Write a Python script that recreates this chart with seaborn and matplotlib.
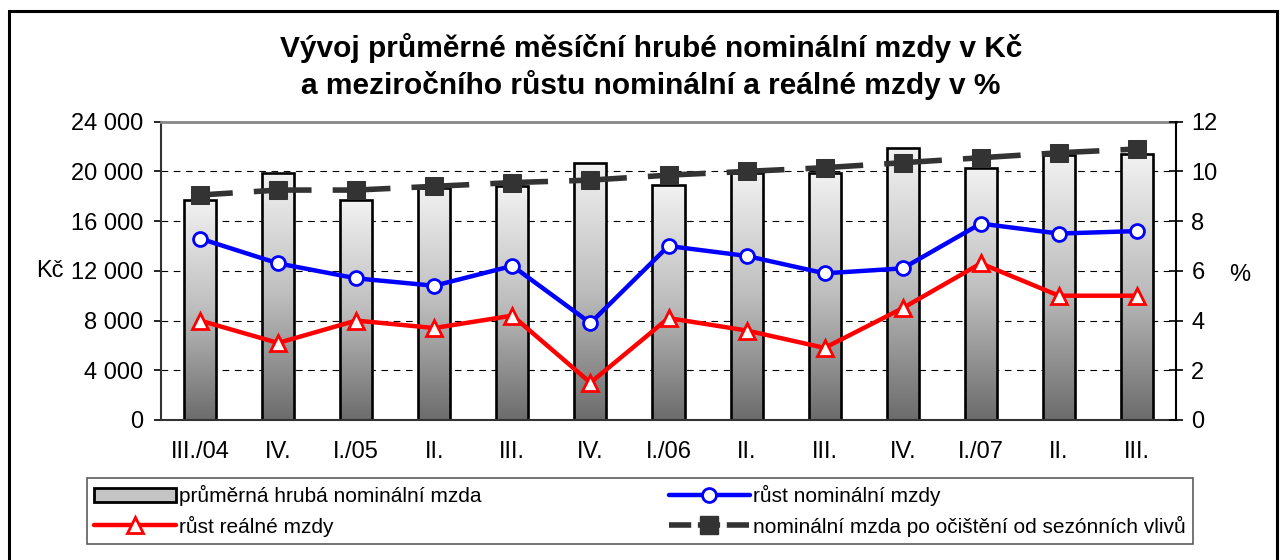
import numpy as np
import pandas as pd
import matplotlib
matplotlib.use("Agg")
import matplotlib.pyplot as plt
import seaborn as sns
from matplotlib.patches import Patch, Rectangle
from matplotlib.lines import Line2D
from matplotlib.colors import LinearSegmentedColormap
from matplotlib.ticker import FuncFormatter, FixedLocator

# data
periods = ["2004Q3", "2004Q4", "2005Q1", "2005Q2", "2005Q3", "2005Q4", "2006Q1",
           "2006Q2", "2006Q3", "2006Q4", "2007Q1", "2007Q2", "2007Q3"]
tick_labels = ["III./04", "IV.", "I./05", "II.", "III.", "IV.", "I./06",
               "II.", "III.", "IV.", "I./07", "II.", "III."]
avg_wage = [17700, 19900, 17700, 18700, 18800, 20700, 18900,
            19900, 19900, 21900, 20300, 21300, 21400]
wage_sa = [18100, 18500, 18500, 18800, 19100, 19300, 19700,
           20000, 20300, 20700, 21100, 21500, 21800]
nominal_growth = [7.3, 6.3, 5.7, 5.4, 6.2, 3.9, 7.0, 6.6, 5.9, 6.1, 7.9, 7.5, 7.6]
real_growth = [4.0, 3.1, 4.0, 3.7, 4.2, 1.5, 4.1, 3.6, 2.9, 4.5, 6.3, 5.0, 5.0]

lbl_bar = "průměrná hrubá nominální mzda"
lbl_nom = "růst nominální mzdy"
lbl_real = "růst reálné mzdy"
lbl_sa = "nominální mzda po očištění od sezónních vlivů"

df = pd.DataFrame({"pos": range(len(periods)), "period": periods,
                   "wage": avg_wage, "wage_sa": wage_sa,
                   "nom": nominal_growth, "real": real_growth})

sns.set_style("white")
plt.rcParams["font.family"] = ["Liberation Sans", "DejaVu Sans"]
plt.rcParams["text.color"] = "black"
plt.rcParams["axes.labelcolor"] = "black"
plt.rcParams["xtick.color"] = "black"
plt.rcParams["ytick.color"] = "black"

W, H = 1283, 560
fig = plt.figure(figsize=(W / 100, H / 100), dpi=100)
ax = fig.add_axes([161 / W, 1 - 420 / H, 1015 / W, 298.3 / H])

# bars with vertical gradient
sns.barplot(data=df, x="pos", y="wage", ax=ax, width=0.41, color="#c0c0c0",
            edgecolor="black", linewidth=1.9, zorder=2)
cmap = LinearSegmentedColormap.from_list("g", ["#6c6c6c", "#bdbdbd", "#f2f2f2"])
grad = np.linspace(0, 1, 256).reshape(-1, 1)
for p in ax.patches:
    x0, y0 = p.get_x(), p.get_y()
    w, h = p.get_width(), p.get_height()
    im = ax.imshow(grad, extent=[x0, x0 + w, y0, y0 + h], origin="lower",
                   aspect="auto", cmap=cmap, zorder=1.9)
    im.set_clip_path(p)
    p.set_facecolor("none")

# seasonally adjusted wage (left axis), dashed with squares
sns.lineplot(data=df, x="pos", y="wage_sa", ax=ax, color="#333333", lw=4,
             marker="s", markersize=13, markeredgecolor="#333333",
             linestyle=(4.5, (10.4, 3.8)), zorder=3)

ax.set_xlim(-0.5, 12.5)
ax.set_ylim(0, 24000)
ax.set_yticks(range(0, 24001, 4000))
ax.yaxis.set_major_formatter(FuncFormatter(lambda v, _: f"{v:,.0f}".replace(",", " ")))
ax.grid(axis="y", color="black", linestyle=(0, (6, 5)), linewidth=0.8)
ax.set_axisbelow(True)
ax.xaxis.set_major_locator(FixedLocator(np.arange(-0.5, 13, 1)))
ax.xaxis.set_minor_locator(FixedLocator(np.arange(13)))
ax.set_xticklabels([], minor=False)
ax.set_xticklabels(tick_labels, minor=True)
ax.tick_params(axis="x", which="major", direction="out", length=5, width=1.2, color="#333333")
ax.tick_params(axis="x", which="minor", length=0, pad=15, labelsize=17)
ax.tick_params(axis="y", direction="out", length=5, width=1.2, pad=8, labelsize=17, left=True)
ax.set_xlabel("")
ax.set_ylabel("Kč", rotation=0, fontsize=17, va="center", ha="center")
ax.yaxis.set_label_coords(-0.109, 0.5)
for s in ["left", "bottom"]:
    ax.spines[s].set_color("#333333")
    ax.spines[s].set_linewidth(1.5)
ax.spines["top"].set_color("#888888")
ax.spines["top"].set_linewidth(2)
ax.spines["right"].set_visible(False)

# growth rates (right axis)
ax2 = ax.twinx()
sns.lineplot(data=df, x="pos", y="nom", ax=ax2, color="#0000ff", lw=3.2,
             marker="o", markersize=10, markerfacecolor="white",
             markeredgecolor="#0000ff", markeredgewidth=2, zorder=4)
sns.lineplot(data=df, x="pos", y="real", ax=ax2, color="#ff0000", lw=3.2,
             marker="^", markersize=11, markerfacecolor="white",
             markeredgecolor="#ff0000", markeredgewidth=2, zorder=4)
ax2.set_ylim(0, 12)
ax2.set_yticks(range(0, 13, 2))
ax2.tick_params(axis="y", direction="inout", length=10, width=1.2, pad=6,
                labelsize=17, right=True)
ax2.set_ylabel("%", rotation=0, fontsize=17, va="center", ha="center")
ax2.yaxis.set_label_coords(1.063, 0.486)
ax2.spines["right"].set_color("black")
ax2.spines["right"].set_linewidth(1.5)
for s in ["left", "top", "bottom"]:
    ax2.spines[s].set_visible(False)
ax2.set_xlim(-0.5, 12.5)

# title
fig.text(651 / W, 1 - 48 / H, "Vývoj průměrné měsíční hrubé nominální mzdy v Kč",
         ha="center", va="center", fontsize=21.5, fontweight="bold")
fig.text(651 / W, 1 - 85 / H, "a meziročního růstu nominální a reálné mzdy v %",
         ha="center", va="center", fontsize=21.5, fontweight="bold")

# legend
handles = [
    Patch(facecolor="#c4c4c4", edgecolor="black", linewidth=2, label=lbl_bar),
    Line2D([], [], color="#ff0000", lw=3.2, marker="^", markersize=11,
           markerfacecolor="white", markeredgecolor="#ff0000", markeredgewidth=2, label=lbl_real),
    Line2D([], [], color="#0000ff", lw=3.2, marker="o", markersize=10,
           markerfacecolor="white", markeredgecolor="#0000ff", markeredgewidth=2, label=lbl_nom),
    Line2D([], [], color="#333333", lw=4, marker="s", markersize=13,
           linestyle=(0, (4, 1.2)), label=lbl_sa),
]
leg = fig.legend(handles=handles, ncol=2, loc="lower left", mode="expand",
                 bbox_to_anchor=(87 / W, 1 - 544 / H, (1193 - 87) / W, 66 / H),
                 fontsize=15, handlelength=3.9, handletextpad=0.15,
                 labelspacing=0.45, borderpad=0.35, borderaxespad=0,
                 fancybox=False, frameon=True)
leg.get_frame().set_edgecolor("#333333")
leg.get_frame().set_linewidth(1.2)

# outer frame
fig.patches.append(Rectangle((9 / W, -0.02), (1277 - 9) / W, 1.02 - 11 / H,
                             transform=fig.transFigure, fill=False,
                             edgecolor="black", linewidth=2.2))

fig.savefig("out.png", dpi=100)
